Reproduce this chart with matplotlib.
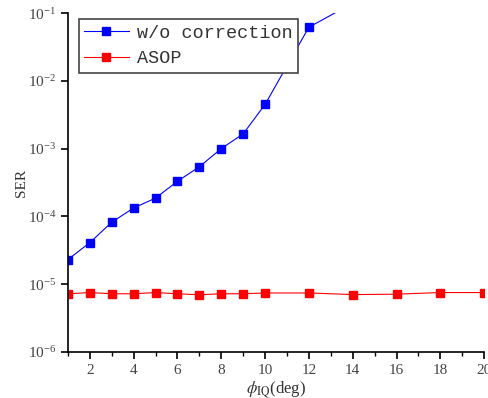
import numpy as np
import matplotlib
matplotlib.use('Agg')
from matplotlib import pyplot as plt

phi_wo = [1, 2, 3, 4, 5, 6, 7, 8, 9, 10, 12, 14]
ser_wo = [2.3e-5, 4.1e-5, 8.2e-5, 1.33e-4, 1.86e-4, 3.3e-4, 5.4e-4, 1.0e-3, 1.65e-3, 4.5e-3, 6.2e-2, 1.4e-1]

phi_asop = [1, 2, 3, 4, 5, 6, 7, 8, 9, 10, 12, 14, 16, 18, 20]
ser_asop = [7.2e-6, 7.5e-6, 7.2e-6, 7.2e-6, 7.5e-6, 7.2e-6, 6.95e-6, 7.2e-6, 7.2e-6, 7.4e-6, 7.4e-6, 7.0e-6, 7.1e-6, 7.5e-6, 7.5e-6]

x_major = [2, 4, 6, 8, 10, 12, 14, 16, 18, 20]

plt.rcParams['font.family'] = ['Liberation Serif', 'DejaVu Serif']
plt.rcParams['mathtext.fontset'] = 'stix'

fig = plt.figure(figsize=(4.89, 3.98), dpi=100)
ax = fig.add_axes([0.139, 0.116, 0.851, 0.851])

ax.plot(phi_wo, ser_wo, color='blue', lw=0.8, marker='s', ms=6, label='w/o correction')
ax.plot(phi_asop, ser_asop, color='red', lw=0.8, marker='s', ms=5.8, label='ASOP')

ax.set_yscale('log')
ax.set_ylim(1e-6, 1e-1)
ax.set_xlim(1, 20)
ax.set_xticks(x_major)
ax.set_xticks(range(1, 21), minor=True)
ax.yaxis.set_minor_locator(matplotlib.ticker.NullLocator())

for side in ('top', 'right'):
    ax.spines[side].set_visible(False)
for side in ('left', 'bottom'):
    ax.spines[side].set_linewidth(1.2)

ax.tick_params(which='major', direction='out', length=5, width=1.2, labelsize=11, labelcolor='#444444')
ax.tick_params(which='minor', direction='out', length=3, width=1.0)

ax.set_ylabel('SER', fontsize=11, color='#333333', labelpad=0)
ax.set_xlabel(r'$\phi_{\rm IQ}$(deg)', fontsize=12, color='#333333', labelpad=2)

leg = ax.legend(loc='upper left', bbox_to_anchor=(0.026, 0.982), fancybox=False,
                framealpha=1, edgecolor='#444444', handlelength=2.4, borderpad=0.3,
                labelspacing=0.45, handletextpad=0.45, borderaxespad=0,
                prop={'family': 'Liberation Mono', 'size': 13.3})
leg.get_frame().set_linewidth(1.2)
for t in leg.get_texts():
    t.set_color('#333333')

fig.savefig('out.png', dpi=100)
